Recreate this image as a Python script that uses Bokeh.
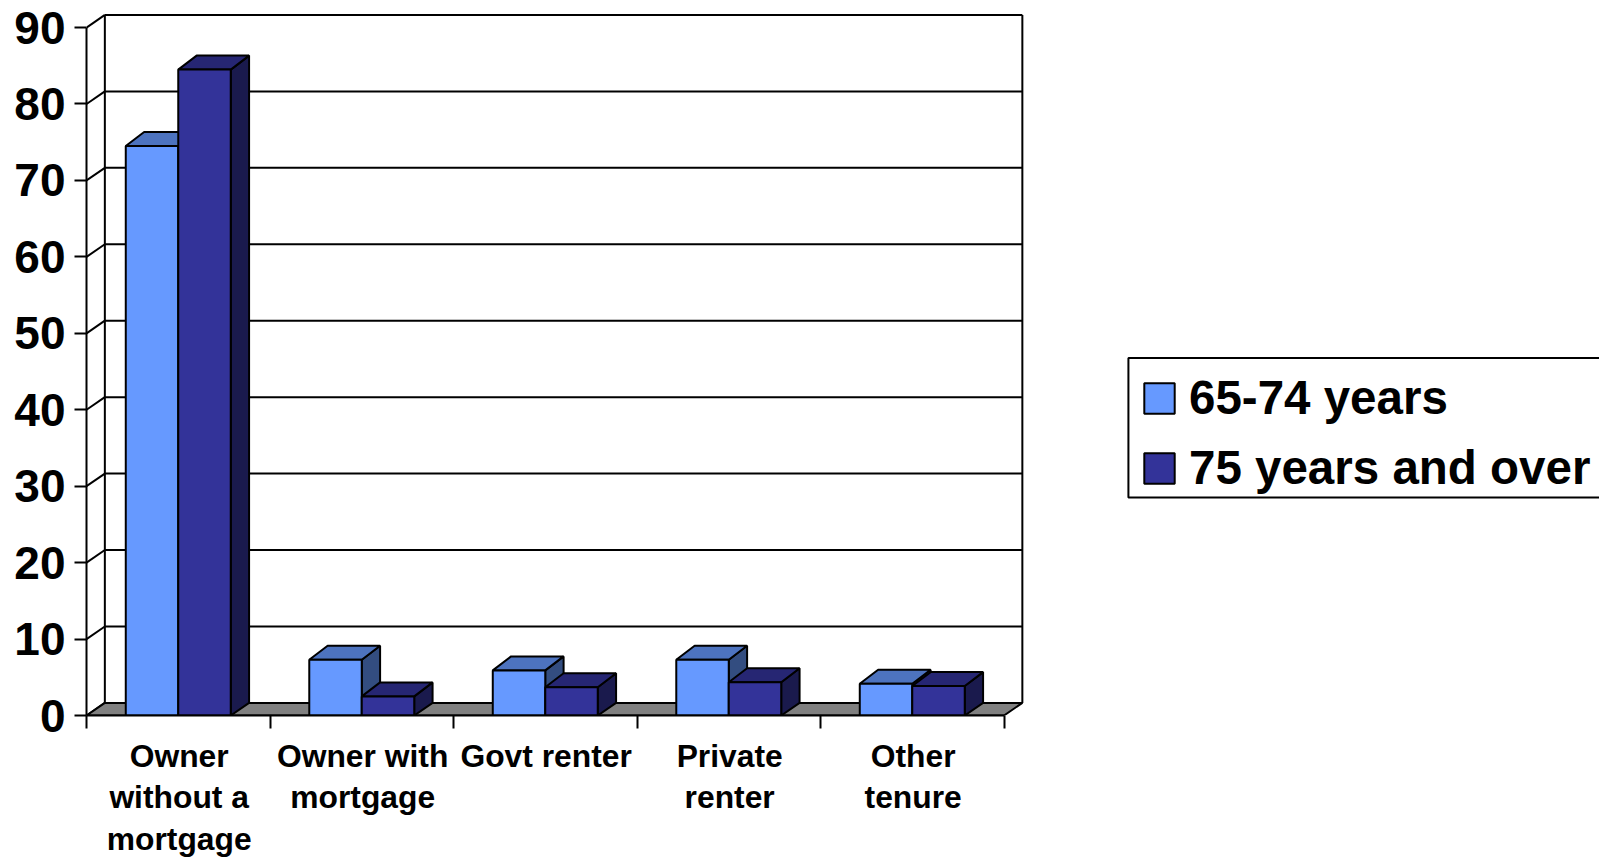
from bokeh.embed import file_html
from bokeh.models import BoxAnnotation, FixedTicker, Legend, LegendItem, Range1d
from bokeh.plotting import figure
from bokeh.resources import INLINE

# Share of older households by housing tenure (per cent)
categories = ["Owner\nwithout a\nmortgage", "Owner with\nmortgage", "Govt renter",
              "Private\nrenter", "Other\ntenure"]
age_65_74 = [74.5, 7.3, 5.9, 7.3, 4.15]
age_75_over = [84.5, 2.5, 3.7, 4.35, 3.85]
value_ticks = list(range(0, 100, 10))
series_names = ["65-74 years", "75 years and over"]

FONT = "Liberation Sans"
INK = "#000000"
LINE = 2

# Pseudo-3D depth, in data units
DX = 0.1
DY = 1.65
BAR_DY = 1.83
BAR_W = 0.286

# The plot area runs to the page edge so that the legend can sit inside it
p = figure(width=1599, height=858, frame_width=1513, frame_height=703,
           output_backend="svg", toolbar_location=None,
           x_range=Range1d(0, 8.2452), y_range=Range1d(0, 91.97),
           min_border_left=86, min_border_right=0, min_border_top=12, min_border_bottom=0,
           outline_line_color=None, background_fill_color="white", border_fill_color="white")
p.grid.visible = False

# Value axis
ya = p.yaxis[0]
ya.ticker = FixedTicker(ticks=value_ticks)
ya.bounds = (0, 90)
ya.axis_line_color = INK
ya.axis_line_width = LINE
ya.major_tick_line_color = INK
ya.major_tick_line_width = LINE
ya.major_tick_out = 12
ya.major_tick_in = 0
ya.minor_tick_out = 0
ya.major_label_standoff = 9
ya.major_label_text_font = FONT
ya.major_label_text_font_style = "bold"
ya.major_label_text_font_size = "46px"
ya.major_label_text_color = INK

# Category axis: labels sit mid-category, the tick marks between categories
n = len(categories)
label_ticks = [i + 0.505 for i in range(n)]
xa = p.xaxis[0]
xa.ticker = FixedTicker(ticks=label_ticks, minor_ticks=list(range(n + 1)))
xa.major_label_overrides = dict(zip(label_ticks, categories))
xa.bounds = (0, n)
xa.axis_line_color = INK
xa.axis_line_width = LINE
xa.major_tick_out = 0
xa.major_tick_in = 0
xa.minor_tick_line_color = INK
xa.minor_tick_line_width = LINE
xa.minor_tick_out = 13
xa.minor_tick_in = 0
xa.major_label_standoff = 9
xa.major_label_text_font = FONT
xa.major_label_text_font_style = "bold"
xa.major_label_text_font_size = "31.8px"
xa.major_label_text_line_height = 1.165
xa.major_label_text_color = INK

# Back wall, gridlines and the slanted connectors to the value axis
wall_top = value_ticks[-1] + DY
p.segment(x0=[DX] * len(value_ticks), y0=[v + DY for v in value_ticks],
          x1=[n + DX] * len(value_ticks), y1=[v + DY for v in value_ticks],
          line_color=INK, line_width=LINE)
p.segment(x0=[0] * len(value_ticks), y0=value_ticks,
          x1=[DX] * len(value_ticks), y1=[v + DY for v in value_ticks],
          line_color=INK, line_width=LINE)
p.segment(x0=[DX, n + DX], y0=[DY, DY], x1=[DX, n + DX], y1=[wall_top, wall_top],
          line_color=INK, line_width=LINE)

# Floor
p.patch([0, n, n + DX, DX], [0, 0, DY, DY], fill_color="#808080", line_color=INK, line_width=LINE)


def draw_series(values, offset, front, top, side):
    lefts = [i + 0.5 + offset * BAR_W for i in range(n)]
    rights = [x + BAR_W for x in lefts]
    p.patches([[r, r + DX, r + DX, r] for r in rights],
              [[0, DY, v + BAR_DY, v] for v in values],
              fill_color=side, line_color=INK, line_width=LINE)
    p.patches([[l, r, r + DX, l + DX] for l, r in zip(lefts, rights)],
              [[v, v, v + BAR_DY, v + BAR_DY] for v in values],
              fill_color=top, line_color=INK, line_width=LINE)
    return p.quad(left=lefts, right=rights, bottom=[0] * n, top=values,
                  fill_color=front, line_color=INK, line_width=LINE)


light = draw_series(age_65_74, -1, "#6699FF", "#4D73BF", "#334D80")
dark = draw_series(age_75_over, 0, "#333399", "#262673", "#1A1A4D")

# Legend box, running off the right edge of the page
p.add_layout(BoxAnnotation(left=5.678, right=9, top=46.77, bottom=28.52,
                           fill_alpha=0, line_color=INK, line_alpha=1, line_width=LINE,
                           editable=False))

legend = Legend(items=[LegendItem(label=series_names[0], renderers=[light]),
                       LegendItem(label=series_names[1], renderers=[dark])],
                location=(1043, 209), orientation="vertical", margin=0,
                padding=11, spacing=15, glyph_width=38, glyph_height=38,
                label_standoff=11, label_height=47,
                label_text_font=FONT, label_text_font_style="bold",
                label_text_font_size="47.5px", label_text_color=INK,
                border_line_color=INK, border_line_alpha=0, background_fill_alpha=0)
p.add_layout(legend, "center")

open("out.html", "w").write(file_html(p, INLINE))
